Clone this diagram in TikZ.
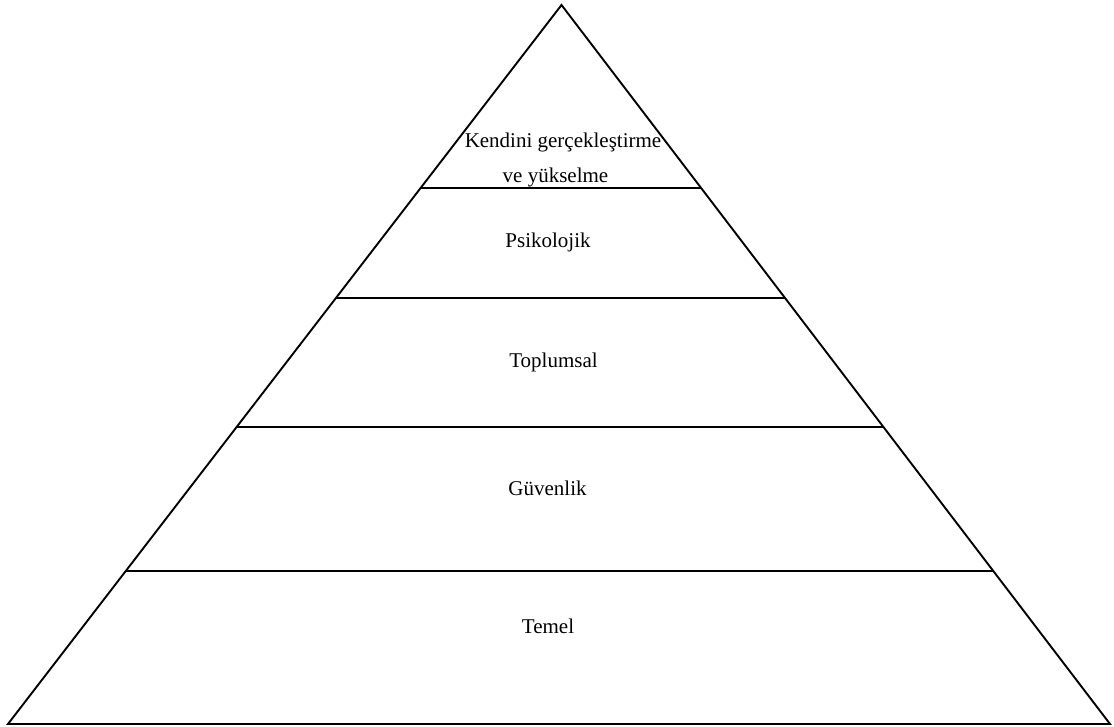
\documentclass[tikz,border=0pt]{standalone}
\usepackage{fontspec}
\setmainfont{Liberation Serif}
\usetikzlibrary{calc}
\tikzset{ every node/.style={font=\fontsize{21}{25}\selectfont,inner sep=0pt,anchor=base},
  layer/.style={line width=1.9pt}}

\begin{document}
\begin{tikzpicture}[x=1pt,y=1pt]
  \useasboundingbox (0,0) rectangle (1114,727);
  \coordinate (apex) at (561.5,722);
  \coordinate (bl) at (8,3);
  \coordinate (br) at (1110,3);
  \draw[layer] (apex) -- (bl) -- (br) -- cycle;

  \foreach \t/\name in {0.2545/s1, 0.4075/s2, 0.5869/s3, 0.7872/s4}
	\draw[layer] ($(apex)!\t!(bl)$) coordinate (\name l) -- ($(apex)!\t!(br)$) coordinate (\name r);

  \foreach \pos/\name/\txt in {{(563,579)/kendini/Kendini gerçekleştirme}, {(555.5,544)/yukselme/ve yükselme},
	{(548,479)/psiko/Psikolojik}, {(553.5,359)/toplum/Toplumsal}, {(547.5,231)/guven/Güvenlik}, {(548,93)/temel/Temel}}
	\node (\name) at \pos {\txt};
\end{tikzpicture}
\end{document}
